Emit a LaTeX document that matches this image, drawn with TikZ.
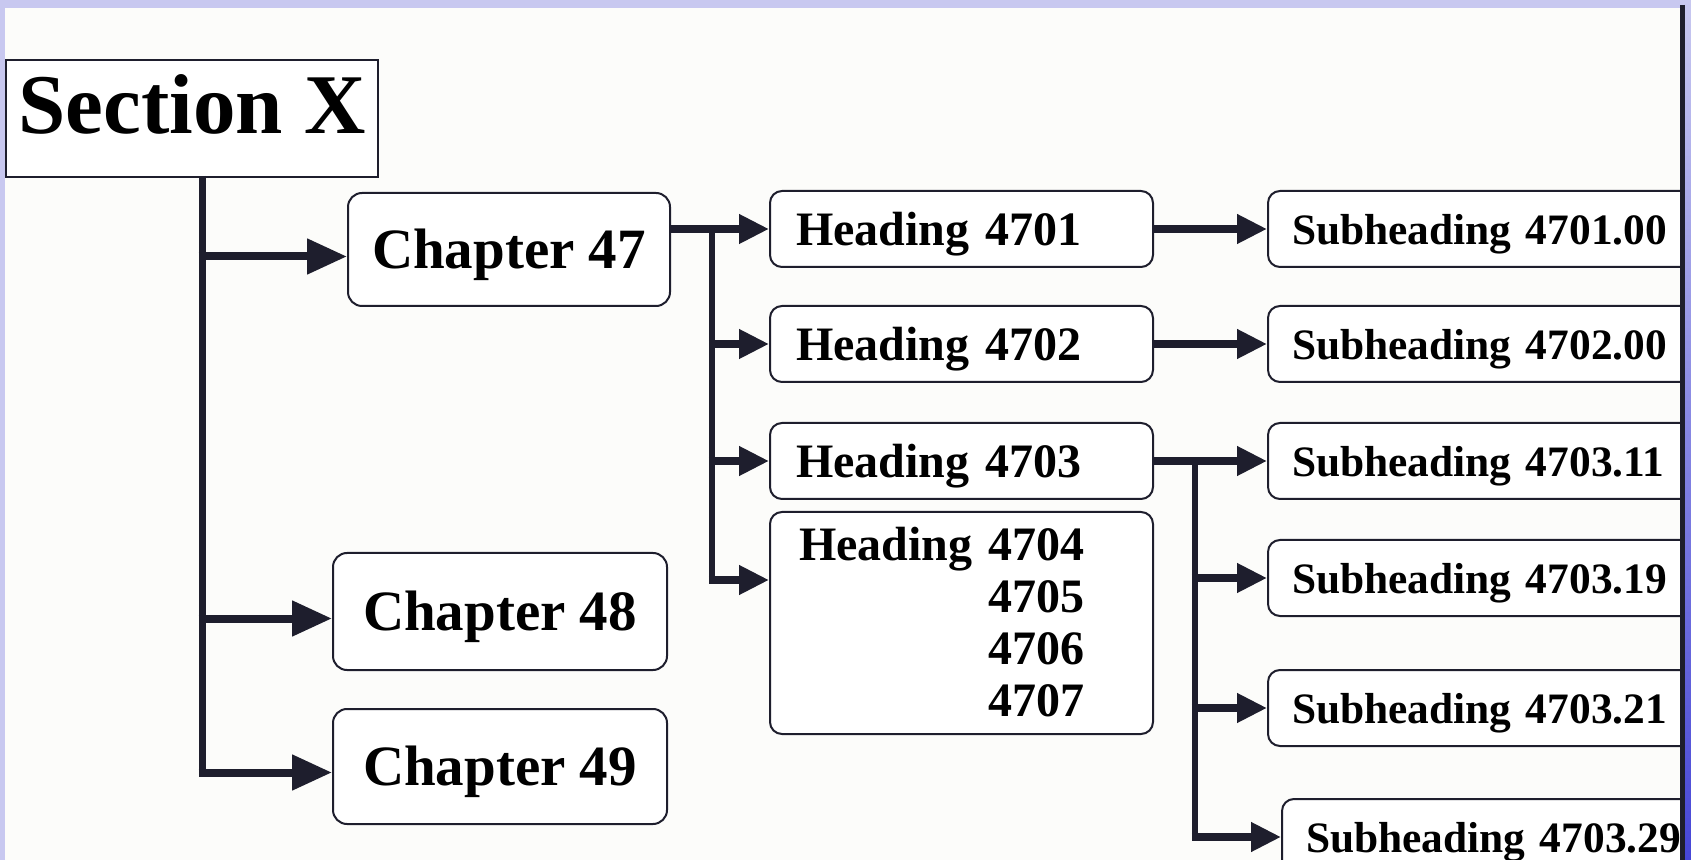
\documentclass[tikz,border=0pt]{standalone}
\usepackage{fontspec}
\setmainfont{Liberation Serif}
\usetikzlibrary{arrows.meta,calc}
\definecolor{ink}{RGB}{30,30,45}
\definecolor{lav}{RGB}{200,200,240}
\definecolor{edgeblue}{RGB}{70,70,215}
\definecolor{paper}{RGB}{252,252,250}
\newcommand{\lowertext}[1]{\raisebox{-2.7pt}[\height][\depth]{#1}}
\begin{document}
\begin{tikzpicture}[x=0.5pt,y=-0.5pt,
  boxbase/.style={draw=ink,line width=1pt,fill=white,inner sep=0pt,anchor=north west},
  secbox/.style={boxbase,minimum width=186pt,minimum height=58.5pt,align=center,
    text height=30pt,text depth=15pt,
    font=\fontsize{42.5}{50}\selectfont\bfseries},
  chbox/.style={boxbase,rounded corners=7pt,minimum height=57.5pt,align=center,
    font=\fontsize{28.5}{34}\selectfont\bfseries},
  hbox/.style={boxbase,rounded corners=6pt,text width=165.5pt,inner xsep=13pt,
    minimum height=38pt,align=left,font=\fontsize{24}{26}\selectfont\bfseries},
  sbox/.style={boxbase,rounded corners=6pt,text width=195pt,inner xsep=12pt,
    minimum height=38pt,align=left,font=\fontsize{21.7}{26}\selectfont\bfseries},
  trunkline/.style={draw=ink,line width=3.5pt},
  branchline/.style={draw=ink,line width=3.2pt},
  bigarr/.style={draw=ink,line width=4pt,-{Triangle[length=20pt,width=17pt]}},
  midarr/.style={draw=ink,line width=3.6pt,-{Triangle[length=15pt,width=14pt]}}
]
\useasboundingbox (0,0) rectangle (1691,860);
% background and frame
\fill[paper] (0,0) rectangle (1691,860);
\fill[lav] (0,0) rectangle (1691,8);
\fill[lav] (0,0) rectangle (5,860);
\shade[top color=lav,bottom color=edgeblue] (1685,0) rectangle (1691,860);

% section and chapters
\node[secbox] (sec) at (5,59) {Section X};
\node[chbox,minimum width=161pt,minimum height=56.5pt] (ch47) at (347,192) {\lowertext{Chapter 47}};
\node[chbox,minimum width=167pt,minimum height=58.5pt] (ch48) at (332,552) {\lowertext{Chapter 48}};
\node[chbox,minimum width=167pt] (ch49) at (332,708) {\lowertext{Chapter 49}};

% headings
\node[hbox] (h1) at (769,190) {\lowertext{Heading 4701}};
\node[hbox] (h2) at (769,305) {\lowertext{Heading 4702}};
\node[hbox] (h3) at (769,422) {\lowertext{Heading 4703}};
\node[hbox,text width=162.5pt,inner xsep=14.5pt,minimum height=111pt] (h4) at (769,511)
  {\lowertext{\begin{tabular}{@{}l@{\ }r@{}}Heading & 4704\\ & 4705\\ & 4706\\ & 4707\end{tabular}}};

% subheadings (cut off at the right edge)
\begin{scope}
\clip (0,0) rectangle (1680,860);
\node[sbox] (s1) at (1267,190) {\lowertext{Subheading 4701.00}};
\node[sbox] (s2) at (1267,305) {\lowertext{Subheading 4702.00}};
\node[sbox] (s3) at (1267,422) {\lowertext{Subheading 4703.11}};
\node[sbox] (s4) at (1267,539) {\lowertext{Subheading 4703.19}};
\node[sbox] (s5) at (1267,669) {\lowertext{Subheading 4703.21}};
\node[sbox] (s6) at (1281,798) {\lowertext{Subheading 4703.29}};
\end{scope}

% connectors: section -> chapters
\coordinate (t) at (202,176);
\coordinate (a47) at ($(ch47.west)+(0,7)$);
\coordinate (a48) at ($(ch48.west)+(0,7)$);
\coordinate (a49) at ($(ch49.west)+(0,6)$);
\draw[trunkline] (t) -- (t |- a49);
\draw[bigarr] ([xshift=-1.75pt]t |- a47) -- (a47);
\draw[bigarr] ([xshift=-1.75pt]t |- a48) -- (a48);
\draw[bigarr] ([xshift=-1.75pt]t |- a49) -- (a49);

% chapter 47 -> headings
\coordinate (b1) at (712,228);
\coordinate (a4) at ($(h4.west)+(0,-43)$);
\draw[midarr] (ch47.east |- h1.west) -- (h1.west);
\draw[branchline] (b1) -- (b1 |- a4);
\draw[midarr] ([xshift=-1.6pt]b1 |- h2.west) -- (h2.west);
\draw[midarr] ([xshift=-1.6pt]b1 |- h3.west) -- (h3.west);
\draw[midarr] ([xshift=-1.6pt]b1 |- a4) -- (a4);

% headings -> subheadings
\draw[midarr] (h1.east) -- (s1.west);
\draw[midarr] (h2.east) -- (s2.west);
\draw[midarr] (h3.east) -- (s3.west);
\coordinate (b2) at (1195,460);
\draw[branchline] (b2) -- (b2 |- s6.west);
\draw[midarr] ([xshift=-1.6pt]b2 |- s4.west) -- (s4.west);
\draw[midarr] ([xshift=-1.6pt]b2 |- s5.west) -- (s5.west);
\draw[midarr] ([xshift=-1.6pt]b2 |- s6.west) -- (s6.west);

% dark right edge line
\draw[ink,line width=2.5pt] (1682,5) -- (1682,860);
\end{tikzpicture}
\end{document}
